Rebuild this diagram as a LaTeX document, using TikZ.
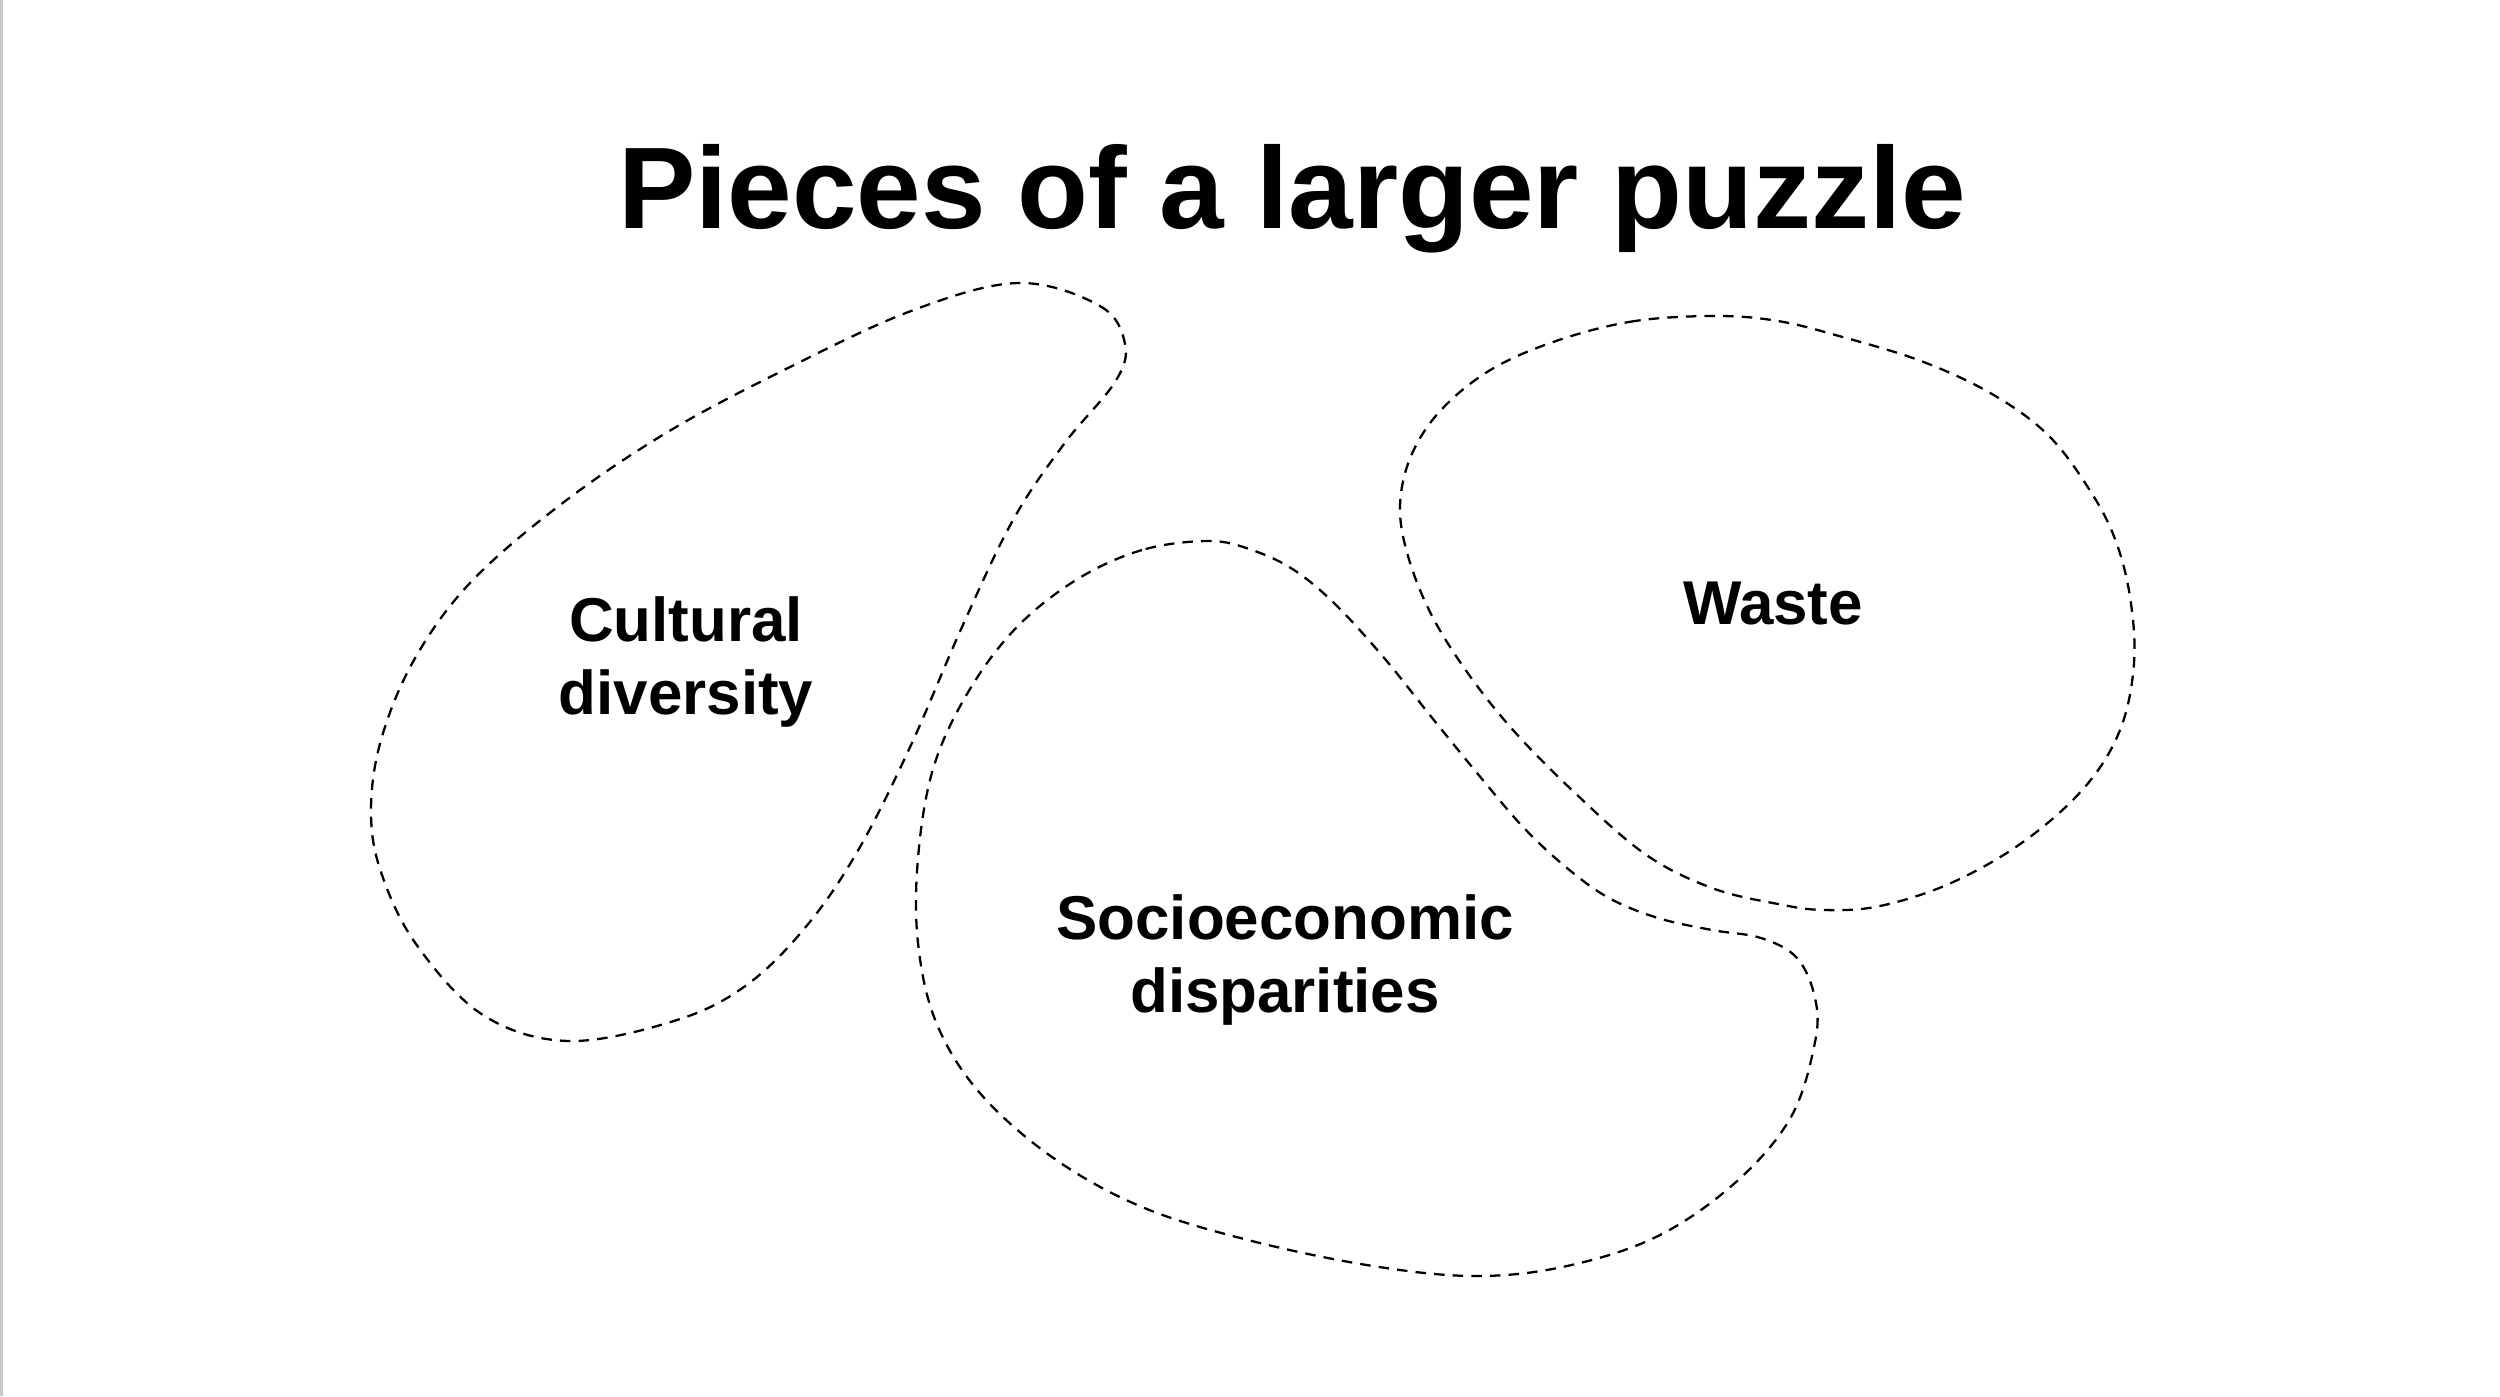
\documentclass[tikz,border=0pt]{standalone}
\usepackage{fontspec}
\setmainfont{Liberation Sans}
\usepackage{xcolor}
\usepackage{tikz}
\usetikzlibrary{positioning}
\definecolor{edgegray}{RGB}{200,200,200}

\begin{document}
\begin{tikzpicture}[x=0.01cm, y=-0.01cm,
    piece/.style={draw=black, line width=0.65pt, dash pattern=on 3pt off 2.3pt},
    piecetext/.style={align=center, font=\fontsize{17.6}{21}\selectfont\bfseries, inner sep=0pt}
]
\useasboundingbox (0,0) rectangle (2500,1396);
\fill[white] (0,0) rectangle (2500,1396);
\fill[edgegray] (0,0) rectangle (3,1396);
\node[font=\fontsize{33}{40}\selectfont\bfseries, anchor=base, inner sep=0pt] (title) at (1292,228) {Pieces of a larger puzzle};
\draw[piece] plot[smooth cycle, tension=0.6] coordinates {
  (1018,283) (1100,306) (1125,344) (1115,382) (1064,444) (1013,520) (962,627)
  (911,745) (860,847) (809,923) (748,984) (677,1020) (569,1041) (483,1015)
  (416,944) (381,872) (371,811) (381,740) (414,660) (470,583) (560,505)
  (666,433) (784,370) (911,311)};
\draw[piece] plot[smooth cycle, tension=0.6] coordinates {
  (1209,541) (1142,550) (1076,580) (1015,629) (967,694) (933,769) (918,858)
  (918,943) (936,1022) (979,1092) (1052,1157) (1142,1207) (1252,1241)
  (1373,1266) (1476,1276) (1567,1266) (1658,1236) (1736,1182) (1791,1117)
  (1815,1042) (1815,998) (1797,958) (1761,938) (1712,930) (1658,918)
  (1609,898) (1567,868) (1524,828) (1482,779) (1433,719) (1385,659)
  (1336,605) (1294,570) (1252,550)};
\draw[piece] plot[smooth cycle, tension=0.6] coordinates {
  (1717,316) (1635,321) (1559,340) (1492,369) (1441,410) (1411,456) (1400,506)
  (1408,556) (1431,614) (1467,672) (1513,730) (1574,792) (1645,854) (1712,888)
  (1778,904) (1824,910) (1880,906) (1951,883) (2023,842) (2084,788) (2120,730)
  (2134,663) (2130,597) (2115,539) (2089,489) (2048,435) (1992,394) (1921,361)
  (1839,336) (1778,321)};
\node[piecetext] (cult) at (686,662) {Cultural\\diversity};
\node[piecetext] (socio) at (1285,960) {Socioeconomic\\disparities};
\node[piecetext] (waste) at (1773,603) {Waste};
\end{tikzpicture}
\end{document}
